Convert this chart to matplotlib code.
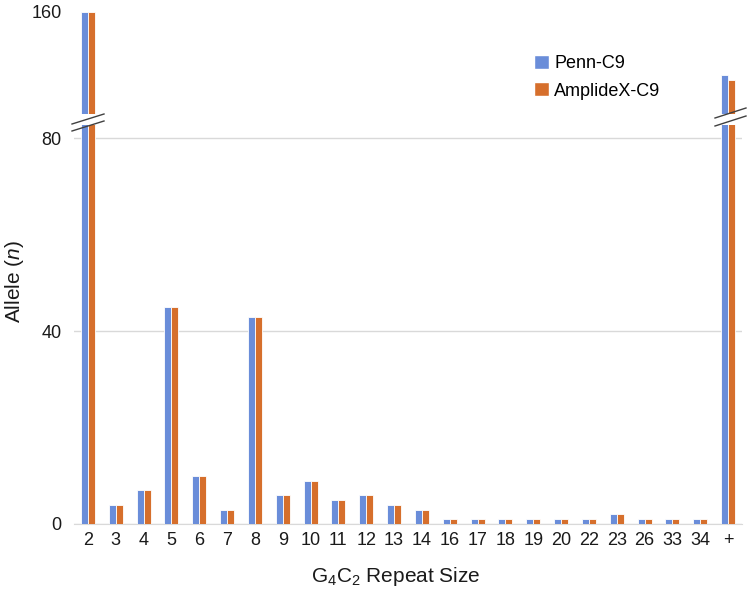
import matplotlib
matplotlib.use("Agg")
import matplotlib.pyplot as plt
import numpy as np
from matplotlib.patches import Patch

plt.rcParams['font.family'] = ['Liberation Sans', 'DejaVu Sans']
plt.rcParams['mathtext.fontset'] = 'custom'
plt.rcParams['mathtext.rm'] = 'Liberation Sans'
plt.rcParams['mathtext.it'] = 'Liberation Sans:italic'

categories = ['2', '3', '4', '5', '6', '7', '8', '9', '10', '11', '12', '13', '14',
              '16', '17', '18', '19', '20', '22', '23', '26', '33', '34', '+']
penn = [160, 4, 7, 45, 10, 3, 43, 6, 9, 5, 6, 4, 3, 1, 1, 1, 1, 1, 1, 2, 1, 1, 1, 147]
amplidex = [160, 4, 7, 45, 10, 3, 43, 6, 9, 5, 6, 4, 3, 1, 1, 1, 1, 1, 1, 2, 1, 1, 1, 146]
series_names = ['Penn-C9', 'AmplideX-C9']
lower_ticks = [0, 40, 80]
upper_ticks = [160]

blue = '#6A8DD9'
orange = '#D66F2C'
W, H = 747, 589
fig = plt.figure(figsize=(W / 100, H / 100), dpi=100)

left, right = 74 / W, 742 / W
ax_lo = fig.add_axes([left, (H - 524) / H, right - left, (524 - 125) / H])
ax_hi = fig.add_axes([left, (H - 114) / H, right - left, (114 - 12) / H])

x = np.arange(len(categories))
bw = 0.25
for ax in (ax_lo, ax_hi):
    ax.bar(x - bw / 2, penn, bw, color=blue, edgecolor='white', linewidth=0.6, zorder=3)
    ax.bar(x + bw / 2, amplidex, bw, color=orange, edgecolor='white', linewidth=0.6, zorder=3)
    ax.set_xlim(-0.5, len(categories) - 0.5)
    for s in ('top', 'right', 'left'):
        ax.spines[s].set_visible(False)
    ax.tick_params(length=0, labelsize=13, colors='#1a1a1a')

ax_lo.set_ylim(0, 82.7)
ax_lo.set_yticks(lower_ticks)
ax_lo.grid(axis='y', color='#D9D9D9', linewidth=1, zorder=0)
ax_lo.spines['bottom'].set_color('#D9D9D9')
ax_lo.set_xticks(x)
ax_lo.set_xticklabels(categories)
ax_lo.tick_params(axis='x', pad=6)
ax_lo.tick_params(axis='y', pad=9)

ax_hi.set_ylim(138.9, 160)
ax_hi.set_yticks(upper_ticks)
ax_hi.spines['bottom'].set_visible(False)
ax_hi.set_xticks([])
ax_hi.tick_params(axis='y', pad=9)

# break marks
def brk(x0, x1, y0, y1):
    fig.add_artist(plt.Line2D([x0 / W, x1 / W], [1 - y0 / H, 1 - y1 / H],
                              color='#404040', linewidth=1.0))

for (xa, xb, ya, yb) in [(72, 104, 124, 114), (72, 104, 131, 121)]:
    brk(xa, xb, ya, yb)
for (xa, xb, ya, yb) in [(715, 746, 118, 108), (715, 746, 126, 116)]:
    brk(xa, xb, ya, yb)

fig.text(15 / W, 1 - 281 / H, 'Allele ($\\it{n}$)', rotation=90, fontsize=15,
         ha='center', va='center', color='#1a1a1a')
fig.text(396 / W, 1 - 577 / H, 'G$_4$C$_2$ Repeat Size', fontsize=15,
         ha='center', va='center', color='#1a1a1a')

handles = [Patch(facecolor=blue, edgecolor='white'), Patch(facecolor=orange, edgecolor='white')]
fig.legend(handles, series_names, loc='upper left', bbox_to_anchor=(518 / W, 1 - 39 / H),
           frameon=False, fontsize=13, handlelength=0.8, handleheight=0.8,
           handletextpad=0.3, labelspacing=0.55)

fig.savefig('out.png', dpi=100)
